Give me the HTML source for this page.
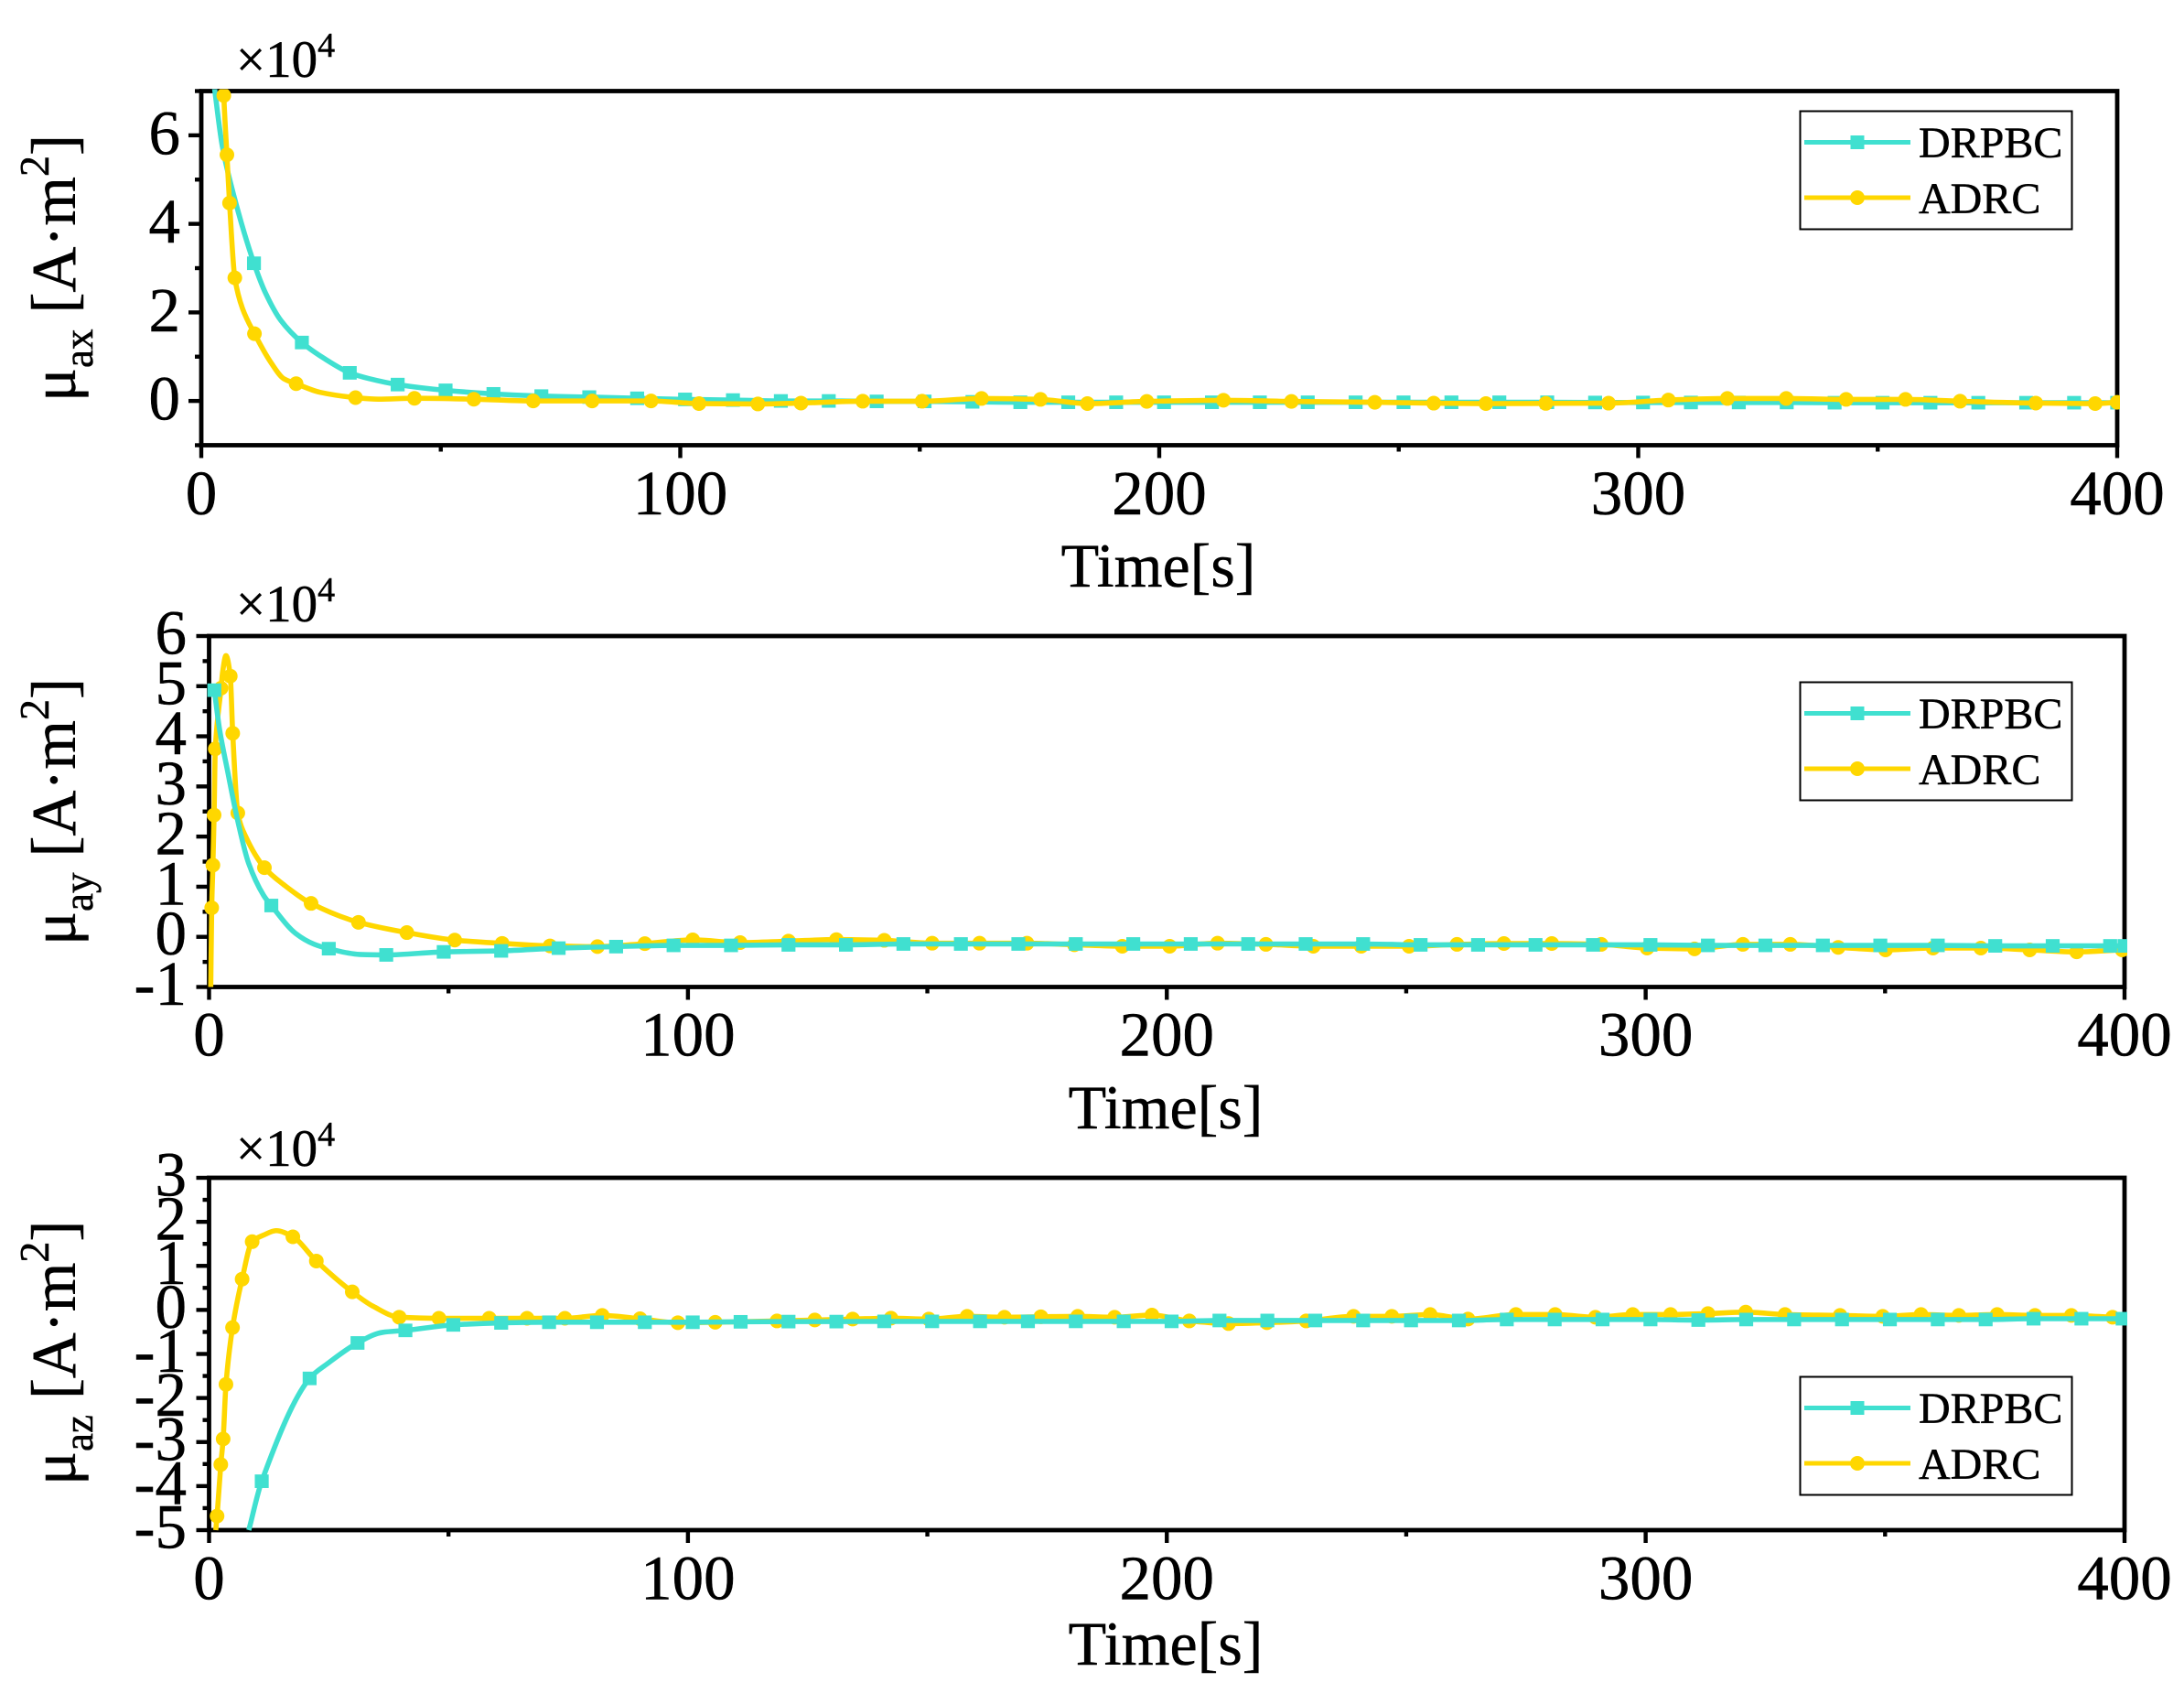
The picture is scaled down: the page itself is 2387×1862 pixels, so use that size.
<!DOCTYPE html>
<html lang="en">
<head>
<meta charset="utf-8">
<title>Magnetic dipole moment comparison</title>
<style>
html,body{margin:0;padding:0;background:#fff;}
body{width:2387px;height:1862px;overflow:hidden;}
svg{display:block;}
text{font-family:"Liberation Serif","DejaVu Serif",serif;fill:#000;stroke:#000;stroke-width:0.5px;}
</style>
</head>
<body>
<svg id="figure" width="2387" height="1862" viewBox="0 0 2387 1862" xmlns="http://www.w3.org/2000/svg">
  <rect x="0" y="0" width="2387" height="1862" fill="#fff"/>

  <g id="panel-ax"></g>
  <g id="panel-ay"></g>
  <g id="panel-az"></g>

  <!-- panel titles -->
  <text x="258" y="84" font-size="57">×10<tspan font-size="38" dy="-22">4</tspan></text>
  <text x="258" y="679" font-size="57">×10<tspan font-size="38" dy="-22">4</tspan></text>
  <text x="258" y="1274" font-size="57">×10<tspan font-size="38" dy="-22">4</tspan></text>

  <text transform="translate(82 439) rotate(-90)" font-size="69">μ<tspan font-size="45" dy="19">ax</tspan><tspan font-size="69" dy="-19" dx="17">[A·m</tspan><tspan font-size="46" dy="-29">2</tspan><tspan font-size="69" dy="29">]</tspan></text>
  <text transform="translate(82 1033) rotate(-90)" font-size="69">μ<tspan font-size="45" dy="19">ay</tspan><tspan font-size="69" dy="-19" dx="17">[A·m</tspan><tspan font-size="46" dy="-29">2</tspan><tspan font-size="69" dy="29">]</tspan></text>
  <text transform="translate(82 1623) rotate(-90)" font-size="69">μ<tspan font-size="45" dy="19">az</tspan><tspan font-size="69" dy="-19" dx="17">[A·m</tspan><tspan font-size="46" dy="-29">2</tspan><tspan font-size="69" dy="29">]</tspan></text>

  <text x="1266" y="641" font-size="68" text-anchor="middle">Time[s]</text>
  <text x="1274" y="1233" font-size="68" text-anchor="middle">Time[s]</text>
  <text x="1274" y="1819" font-size="68" text-anchor="middle">Time[s]</text>

  <!-- legends -->
  <g transform="translate(0 0)">
    <rect x="1967.5" y="121.5" width="297" height="129" fill="#fff" stroke="#000" stroke-width="2"/>
    <line x1="1972" x2="2088" y1="155.5" y2="155.5" stroke="#40E0D0" stroke-width="5"/>
    <rect x="2022.5" y="148" width="15" height="15" fill="#40E0D0"/>
    <text x="2097" y="172" font-size="48">DRPBC</text>
    <line x1="1972" x2="2088" y1="216" y2="216" stroke="#FFD700" stroke-width="5"/>
    <circle cx="2030" cy="216" r="8" fill="#FFD700"/>
    <text x="2097" y="233" font-size="48">ADRC</text>
  </g>
  <g transform="translate(0 624)">
    <rect x="1967.5" y="121.5" width="297" height="129" fill="#fff" stroke="#000" stroke-width="2"/>
    <line x1="1972" x2="2088" y1="155.5" y2="155.5" stroke="#40E0D0" stroke-width="5"/>
    <rect x="2022.5" y="148" width="15" height="15" fill="#40E0D0"/>
    <text x="2097" y="172" font-size="48">DRPBC</text>
    <line x1="1972" x2="2088" y1="216" y2="216" stroke="#FFD700" stroke-width="5"/>
    <circle cx="2030" cy="216" r="8" fill="#FFD700"/>
    <text x="2097" y="233" font-size="48">ADRC</text>
  </g>
  <g transform="translate(0 1383)">
    <rect x="1967.5" y="121.5" width="297" height="129" fill="#fff" stroke="#000" stroke-width="2"/>
    <line x1="1972" x2="2088" y1="155.5" y2="155.5" stroke="#40E0D0" stroke-width="5"/>
    <rect x="2022.5" y="148" width="15" height="15" fill="#40E0D0"/>
    <text x="2097" y="172" font-size="48">DRPBC</text>
    <line x1="1972" x2="2088" y1="216" y2="216" stroke="#FFD700" stroke-width="5"/>
    <circle cx="2030" cy="216" r="8" fill="#FFD700"/>
    <text x="2097" y="233" font-size="48">ADRC</text>
  </g>
</svg>

<script>
/* ---------- shared axis values ---------- */
const xMajorTicks = [0, 100, 200, 300, 400];
const xMinorTicks = [50, 150, 250, 350];

const axYRange = [-1, 7];
const axYMajorTicks = [0, 2, 4, 6];
const axYMinorTicks = [-1, 1, 3, 5, 7];

const ayYRange = [-1, 6];
const ayYMajorTicks = [-1, 0, 1, 2, 3, 4, 5, 6];
const ayYMinorTicks = [-0.5, 0.5, 1.5, 2.5, 3.5, 4.5, 5.5];

const azYRange = [-5, 3];
const azYMajorTicks = [-5, -4, -3, -2, -1, 0, 1, 2, 3];
const azYMinorTicks = [-4.5, -3.5, -2.5, -1.5, -0.5, 0.5, 1.5, 2.5];

/* ---------- mu_ax ---------- */
const axDrpbcTimes = [11,21,31,41,51,61,71,81,91,101,111,121,131,141,151,161,171,181,191,201,211,221,231,241,251,261,271,281,291,301,311,321,331,341,351,361,371,381,391,400];
const axDrpbcValues = [3.11,1.32,0.635,0.37,0.24,0.16,0.11,0.087,0.06,0.035,0.02,0,0,-0.01,-0.01,-0.02,-0.03,-0.03,-0.03,-0.03,-0.03,-0.03,-0.03,-0.03,-0.03,-0.03,-0.03,-0.03,-0.035,-0.035,-0.035,-0.035,-0.035,-0.04,-0.04,-0.04,-0.04,-0.04,-0.04,-0.04];
const axDrpbcLineTimes = [2.6,4.4,7.64,13.4,16.6,25.8,35];
const axDrpbcLineValues = [7.2,5.75,4.3,2.44,1.82,0.95,0.505];

const axAdrcTimes = [4.7,5.35,5.9,7,11.1,19.8,32.2,44.5,56.9,69.3,81.6,93.9,103.9,116.2,125.2,138.1,150.5,162.9,175.2,185,197.4,213.4,227.6,245,257.3,268.2,280.7,293.8,306.3,318.6,330.9,343.4,355.8,367.2,383,395.4,400];
const axAdrcValues = [6.9,5.56,4.47,2.78,1.52,0.39,0.075,0.06,0.04,0,0,0,-0.06,-0.068,-0.048,-0.006,-0.006,0.056,0.035,-0.06,-0.01,0.015,-0.01,-0.03,-0.05,-0.06,-0.055,-0.05,0.02,0.056,0.056,0.035,0.035,-0.006,-0.048,-0.06,-0.03];
const axAdrcLineTimes = [4.6,8.6,14.65,17.2,24.8,36.9];
const axAdrcLineValues = [7.3,2.09,0.85,0.505,0.195,0.04];

/* ---------- mu_ay ---------- */
const ayDrpbcTimes = [1.1,13,25,37,49,61,73,85,97,109,121,133,145,157,169,181,193,205,217,229,241,253,265,277,289,301,313,325,337,349,361,373,385,397,400];
const ayDrpbcValues = [4.92,0.625,-0.236,-0.36,-0.3,-0.28,-0.225,-0.195,-0.17,-0.17,-0.16,-0.16,-0.142,-0.142,-0.142,-0.142,-0.142,-0.142,-0.142,-0.142,-0.142,-0.16,-0.16,-0.16,-0.16,-0.16,-0.17,-0.17,-0.17,-0.17,-0.17,-0.18,-0.18,-0.18,-0.18];
const ayDrpbcLineTimes = [2.2,3.8,6,8.25,11.4,18.1,21.9,31.4];
const ayDrpbcLineValues = [4.13,3.34,2.31,1.47,0.825,0.067,-0.145,-0.35];

const ayAdrcTimes = [0.55,0.8,1.05,1.3,2.5,4.43,4.94,6,11.56,21.3,31.2,41.3,51.3,61.2,71.2,81.1,91,101,110.9,121,131,141,151,160.9,170.8,180.7,190.7,200.6,210.6,220.7,230.6,240.6,250.6,260.6,270.4,280.4,290.7,300.3,310.2,320.3,330.2,340.2,350.1,360,370,380.2,390,399.5];
const ayAdrcValues = [0.58,1.43,2.43,3.75,4.96,5.2,4.06,2.47,1.38,0.667,0.29,0.085,-0.065,-0.13,-0.18,-0.195,-0.135,-0.06,-0.115,-0.085,-0.055,-0.07,-0.127,-0.127,-0.127,-0.157,-0.187,-0.187,-0.127,-0.15,-0.187,-0.187,-0.187,-0.15,-0.133,-0.133,-0.15,-0.224,-0.24,-0.15,-0.15,-0.21,-0.26,-0.224,-0.224,-0.26,-0.3,-0.26];
const ayAdrcLineTimes = [0.35,2.83,3.53,7.6,15.6];
const ayAdrcLineValues = [-1,5.28,5.61,2.01,1.04];

/* ---------- mu_az ---------- */
const azDrpbcTimes = [11,21,31,41,51,61,71,81,91,101,111,121,131,141,151,161,171,181,191,201,211,221,231,241,251,261,271,281,291,301,311,321,331,341,351,361,371,381,391,399.6];
const azDrpbcValues = [-3.89,-1.555,-0.75,-0.465,-0.34,-0.295,-0.28,-0.28,-0.28,-0.28,-0.27,-0.265,-0.265,-0.26,-0.26,-0.26,-0.26,-0.26,-0.26,-0.26,-0.24,-0.24,-0.24,-0.24,-0.24,-0.24,-0.218,-0.218,-0.218,-0.218,-0.23,-0.218,-0.218,-0.218,-0.218,-0.218,-0.218,-0.2,-0.2,-0.2];
const azDrpbcLineTimes = [8.3,24.6,36.2];
const azDrpbcLineValues = [-5,-1.23,-0.51];

const azAdrcTimes = [1.67,2.45,2.94,3.53,4.9,6.9,9,17.5,22.4,29.9,39.7,48,58.5,66.4,74.3,82.1,90,97.9,105.7,118.6,126.5,134.4,142.4,150.3,158.3,166.1,173.7,181.4,189.1,196.9,204.7,212.9,220.9,229.1,239,247,255,262.9,272.9,281.1,289.5,297.3,305.2,313,320.9,329.1,340.6,349.5,357.5,365.4,373.4,381.3,388.9,397.5];
const azAdrcValues = [-4.68,-3.51,-2.93,-1.69,-0.4,0.7,1.55,1.66,1.11,0.41,-0.165,-0.19,-0.19,-0.19,-0.19,-0.125,-0.2,-0.29,-0.28,-0.25,-0.229,-0.208,-0.187,-0.208,-0.146,-0.166,-0.155,-0.146,-0.166,-0.118,-0.25,-0.31,-0.29,-0.25,-0.146,-0.146,-0.104,-0.208,-0.104,-0.104,-0.166,-0.104,-0.104,-0.083,-0.05,-0.104,-0.125,-0.146,-0.104,-0.125,-0.104,-0.125,-0.125,-0.166];
const azAdrcLineTimes = [1.4,11.4,14,34.3];
const azAdrcLineValues = [-5,1.7,1.8,0.08];

/* ---------- layout ---------- */
const SVG_NS = 'http://www.w3.org/2000/svg';
const X_MAX = 400;
const CYAN = '#40E0D0';
const GOLD = '#FFD700';

function make(tag, attrs, parent) {
  const node = document.createElementNS(SVG_NS, tag);
  for (const key in attrs) node.setAttribute(key, attrs[key]);
  parent.appendChild(node);
  return node;
}

function xAxisScale(layout, t) {
  return layout.left + (t / X_MAX) * (layout.right - layout.left);
}

function yAxisScale(layout, v) {
  const span = layout.yRange[1] - layout.yRange[0];
  return layout.bottom - ((v - layout.yRange[0]) / span) * (layout.bottom - layout.top);
}

function drawAxes(layout, group) {
  const frame = make('rect', {
    x: layout.left, y: layout.top,
    width: layout.right - layout.left, height: layout.bottom - layout.top,
    fill: 'none', stroke: '#000', 'stroke-width': 4.8
  }, group);
  
  

  xMajorTicks.forEach(function (t) {
    const x = xAxisScale(layout, t);
    const tick = make('line', {
      x1: x, x2: x, y1: layout.bottom, y2: layout.bottom + 14,
      stroke: '#000', 'stroke-width': 4.4
    }, group);
    
    
    const label = make('text', {
      x: x, y: layout.xLabelY, 'font-size': 69, 'text-anchor': 'middle'
    }, group);
    
    
    label.textContent = String(t);
  });

  xMinorTicks.forEach(function (t) {
    const x = xAxisScale(layout, t);
    const tick = make('line', {
      x1: x, x2: x, y1: layout.bottom, y2: layout.bottom + 7,
      stroke: '#000', 'stroke-width': 4.4
    }, group);
    
    
  });

  layout.yMajor.forEach(function (v) {
    const y = yAxisScale(layout, v);
    const tick = make('line', {
      x1: layout.left - 14, x2: layout.left, y1: y, y2: y,
      stroke: '#000', 'stroke-width': 4.4
    }, group);
    
    
    const label = make('text', {
      x: layout.yLabelX, y: y + layout.yLabelDrop, 'font-size': 69, 'text-anchor': 'end'
    }, group);
    
    
    label.textContent = String(v);
  });

  layout.yMinor.forEach(function (v) {
    const y = yAxisScale(layout, v);
    const tick = make('line', {
      x1: layout.left - 7, x2: layout.left, y1: y, y2: y,
      stroke: '#000', 'stroke-width': 4.4
    }, group);
    
    
  });
}

/* Monotone cubic path through the screen-space points of one series. */
function smoothPath(pts) {
  const n = pts.length;
  const slope = [];
  for (let i = 0; i < n - 1; i++) {
    slope.push((pts[i + 1][1] - pts[i][1]) / (pts[i + 1][0] - pts[i][0]));
  }
  const tangent = [slope[0]];
  for (let i = 1; i < n - 1; i++) {
    tangent.push(slope[i - 1] * slope[i] <= 0 ? 0 : 2 * slope[i - 1] * slope[i] / (slope[i - 1] + slope[i]));
  }
  tangent.push(slope[n - 2]);
  let d = 'M' + pts[0][0].toFixed(2) + ' ' + pts[0][1].toFixed(2);
  for (let i = 0; i < n - 1; i++) {
    const h = (pts[i + 1][0] - pts[i][0]) / 3;
    d += ' C' + (pts[i][0] + h).toFixed(2) + ' ' + (pts[i][1] + tangent[i] * h).toFixed(2) +
         ' ' + (pts[i + 1][0] - h).toFixed(2) + ' ' + (pts[i + 1][1] - tangent[i + 1] * h).toFixed(2) +
         ' ' + pts[i + 1][0].toFixed(2) + ' ' + pts[i + 1][1].toFixed(2);
  }
  return d;
}

function drawLine(layout, group, markTimes, markValues, lineTimes, lineValues, color, name) {
  const points = [];
  markTimes.forEach(function (t, i) { points.push([t, markValues[i]]); });
  lineTimes.forEach(function (t, i) { points.push([t, lineValues[i]]); });
  points.sort(function (a, b) { return a[0] - b[0]; });
  const screen = points.map(function (p) {
    return [xAxisScale(layout, p[0]), yAxisScale(layout, p[1])];
  });
  const line = make('path', {
    d: smoothPath(screen), fill: 'none', stroke: color, 'stroke-width': 5.6,
    'stroke-linejoin': 'round'
  }, group);
  
  
}

function drawSquares(layout, group, times, values) {
  times.forEach(function (t, i) {
    const marker = make('rect', {
      x: xAxisScale(layout, t) - 7.6, y: yAxisScale(layout, values[i]) - 7.4,
      width: 15.2, height: 14.8, fill: CYAN
    }, group);
    
    
  });
}

function drawCircles(layout, group, times, values) {
  times.forEach(function (t, i) {
    const marker = make('circle', {
      cx: xAxisScale(layout, t), cy: yAxisScale(layout, values[i]), r: 8, fill: GOLD
    }, group);
    
    
  });
}

function drawPanel(layout, id, series) {
  const group = document.getElementById(id);
  drawAxes(layout, group);

  const defs = make('defs', {}, group);
  const clip = make('clipPath', { id: id + '-clip' }, defs);
  make('rect', {
    x: layout.left - 8, y: layout.top - 2,
    width: layout.right - layout.left + 11, height: layout.bottom - layout.top + 4
  }, clip);

  const plot = make('g', { 'clip-path': 'url(#' + id + '-clip)' }, group);
  
  

  series.forEach(function (s) {
    if (s.kind === 'drpbc') {
      drawLine(layout, plot, s.times, s.values, s.lineTimes, s.lineValues, CYAN, 'drpbc');
      drawSquares(layout, plot, s.times, s.values);
    } else {
      drawLine(layout, plot, s.times, s.values, s.lineTimes, s.lineValues, GOLD, 'adrc');
      drawCircles(layout, plot, s.times, s.values);
    }
  });
}

drawPanel(
  { left: 220, right: 2314, top: 99.5, bottom: 486.5, yRange: axYRange, yMajor: axYMajorTicks, yMinor: axYMinorTicks, xLabelY: 562, yLabelX: 197, yLabelDrop: 20.5 },
  'panel-ax',
  [
    { kind: 'drpbc', times: axDrpbcTimes, values: axDrpbcValues, lineTimes: axDrpbcLineTimes, lineValues: axDrpbcLineValues },
    { kind: 'adrc', times: axAdrcTimes, values: axAdrcValues, lineTimes: axAdrcLineTimes, lineValues: axAdrcLineValues }
  ]
);

drawPanel(
  { left: 228.5, right: 2322, top: 695, bottom: 1078.5, yRange: ayYRange, yMajor: ayYMajorTicks, yMinor: ayYMinorTicks, xLabelY: 1153.5, yLabelX: 204, yLabelDrop: 19.5 },
  'panel-ay',
  [
    { kind: 'adrc', times: ayAdrcTimes, values: ayAdrcValues, lineTimes: ayAdrcLineTimes, lineValues: ayAdrcLineValues },
    { kind: 'drpbc', times: ayDrpbcTimes, values: ayDrpbcValues, lineTimes: ayDrpbcLineTimes, lineValues: ayDrpbcLineValues }
  ]
);

drawPanel(
  { left: 228.5, right: 2322, top: 1287, bottom: 1672, yRange: azYRange, yMajor: azYMajorTicks, yMinor: azYMinorTicks, xLabelY: 1747.5, yLabelX: 204, yLabelDrop: 19.5 },
  'panel-az',
  [
    { kind: 'adrc', times: azAdrcTimes, values: azAdrcValues, lineTimes: azAdrcLineTimes, lineValues: azAdrcLineValues },
    { kind: 'drpbc', times: azDrpbcTimes, values: azDrpbcValues, lineTimes: azDrpbcLineTimes, lineValues: azDrpbcLineValues }
  ]
);
</script>
</body>
</html>
